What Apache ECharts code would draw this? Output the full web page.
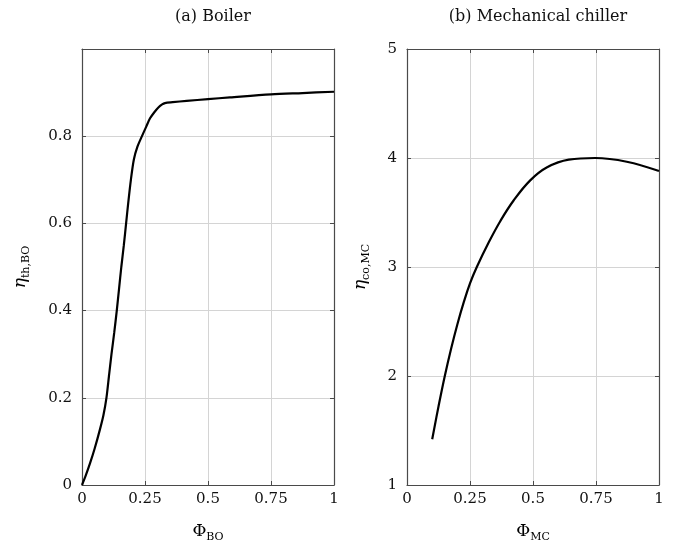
<!DOCTYPE html>
<html>
<head>
<meta charset="utf-8">
<script src="https://cdn.jsdelivr.net/npm/echarts@6/dist/echarts.min.js"></script>
<style>
  html, body { margin: 0; padding: 0; background: #fff; }
  #chart { width: 683px; height: 542px; }
</style>
</head>
<body>
<div id="chart"></div>
<script>
// Boiler: thermal efficiency versus part-load ratio
const boilerPhi = [0, 0.015, 0.032, 0.05, 0.071, 0.085, 0.097, 0.107, 0.117, 0.128, 0.138, 0.147, 0.156, 0.166, 0.175, 0.184, 0.194, 0.206, 0.22, 0.237, 0.255, 0.27, 0.287, 0.303, 0.318, 0.329, 0.36, 0.415, 0.5, 0.587, 0.75, 0.875, 1.0];
const boilerEta = [0, 0.022, 0.05, 0.083, 0.127, 0.16, 0.20, 0.25, 0.30, 0.35, 0.40, 0.45, 0.50, 0.55, 0.60, 0.65, 0.70, 0.747, 0.776, 0.799, 0.822, 0.841, 0.855, 0.866, 0.873, 0.876, 0.878, 0.881, 0.885, 0.889, 0.896, 0.899, 0.902];

// Mechanical chiller: coefficient of performance versus part-load ratio
const chillerPhi = [0.1, 0.125, 0.15, 0.175, 0.2, 0.225, 0.25, 0.277, 0.323, 0.37, 0.423, 0.489, 0.556, 0.642, 0.746, 0.872, 1.0];
const chillerCop = [1.42, 1.72, 2.0, 2.25, 2.475, 2.675, 2.85, 3.0, 3.22, 3.42, 3.61, 3.795, 3.915, 3.985, 4.0, 3.966, 3.88];

const xTicks = [0, 0.25, 0.5, 0.75, 1];
const panelTitles = ['(a) Boiler', '(b) Mechanical chiller'];

const FONT = 'DejaVu Serif';
const FRAME = '#4a4a4a';
const GRIDC = '#d4d4d4';

const pairs = (xs, ys) => xs.map((x, i) => [x, ys[i]]);

const nameRich = {
  m: { fontFamily: FONT, fontSize: 17, fontStyle: 'italic', lineHeight: 22, color: '#000' },
  u: { fontFamily: FONT, fontSize: 17, lineHeight: 22, color: '#000' },
  s: { fontFamily: FONT, fontSize: 11, lineHeight: 12, verticalAlign: 'bottom', color: '#000' }
};

function xAxisPair(gridIndex, name) {
  const common = {
    type: 'value', gridIndex: gridIndex, min: 0, max: 1, interval: 0.25,
    axisLine: { show: true, onZero: false, lineStyle: { color: FRAME, width: 1.2 } },
    axisTick: { show: true, inside: true, length: 4, lineStyle: { color: FRAME, width: 1 } }
  };
  return [
    Object.assign({}, common, {
      position: 'bottom',
      name: name, nameLocation: 'middle', nameGap: 36,
      nameTextStyle: { rich: nameRich },
      axisLabel: {
        margin: 7, fontFamily: FONT, fontSize: 15, color: '#111',
        formatter: v => (xTicks.includes(v) ? String(v) : '')
      },
      splitLine: { show: true, lineStyle: { color: GRIDC, width: 1 } }
    }),
    Object.assign({}, common, {
      position: 'top',
      axisLabel: { show: false },
      splitLine: { show: false }
    })
  ];
}

function yAxisPair(gridIndex, min, max, interval, name, nameGap, hideTop) {
  const common = {
    type: 'value', gridIndex: gridIndex, min: min, max: max, interval: interval,
    axisLine: { show: true, onZero: false, lineStyle: { color: FRAME, width: 1.2 } },
    axisTick: { show: true, inside: true, length: 4, lineStyle: { color: FRAME, width: 1 } }
  };
  return [
    Object.assign({}, common, {
      position: 'left',
      name: name, nameLocation: 'middle', nameGap: nameGap, nameRotate: 90,
      nameTextStyle: { rich: nameRich },
      axisLabel: {
        margin: 10, fontFamily: FONT, fontSize: 15, color: '#111',
        formatter: v => (hideTop && Math.abs(v - max) < 1e-9 ? '' : String(+v.toFixed(2)))
      },
      splitLine: { show: true, lineStyle: { color: GRIDC, width: 1 } }
    }),
    Object.assign({}, common, {
      position: 'right',
      axisLabel: { show: false },
      splitLine: { show: false }
    })
  ];
}

const titleStyle = { fontFamily: FONT, fontSize: 16, fontWeight: 'normal', color: '#111' };

const option = {
  backgroundColor: '#ffffff',
  animation: false,
  title: [
    { text: panelTitles[0], left: 208, top: 4, textAlign: 'center', textStyle: titleStyle },
    { text: panelTitles[1], left: 533, top: 4, textAlign: 'center', textStyle: titleStyle }
  ],
  grid: [
    { left: 82, right: 349, top: 49, bottom: 57, outerBoundsMode: 'none', containLabel: false },
    { left: 407, right: 24, top: 49, bottom: 57, outerBoundsMode: 'none', containLabel: false }
  ],
  xAxis: [].concat(
    xAxisPair(0, '{u|Φ}{s|BO}'),
    xAxisPair(1, '{u|Φ}{s|MC}')
  ),
  yAxis: [].concat(
    yAxisPair(0, 0, 1, 0.2, '{m|η}{s|th,BO}', 50, true),
    yAxisPair(1, 1, 5, 1, '{m|η}{s|co,MC}', 35, false)
  ),
  series: [
    {
      type: 'line', xAxisIndex: 0, yAxisIndex: 0,
      data: pairs(boilerPhi, boilerEta),
      smooth: 0.3, showSymbol: false,
      lineStyle: { color: '#000', width: 2.2 }
    },
    {
      type: 'line', xAxisIndex: 2, yAxisIndex: 2,
      data: pairs(chillerPhi, chillerCop),
      smooth: 0.4, showSymbol: false,
      lineStyle: { color: '#000', width: 2.2 }
    }
  ]
};

const chart = echarts.init(document.getElementById('chart'), null, { renderer: 'canvas' });
chart.setOption(option);
</script>
</body>
</html>
